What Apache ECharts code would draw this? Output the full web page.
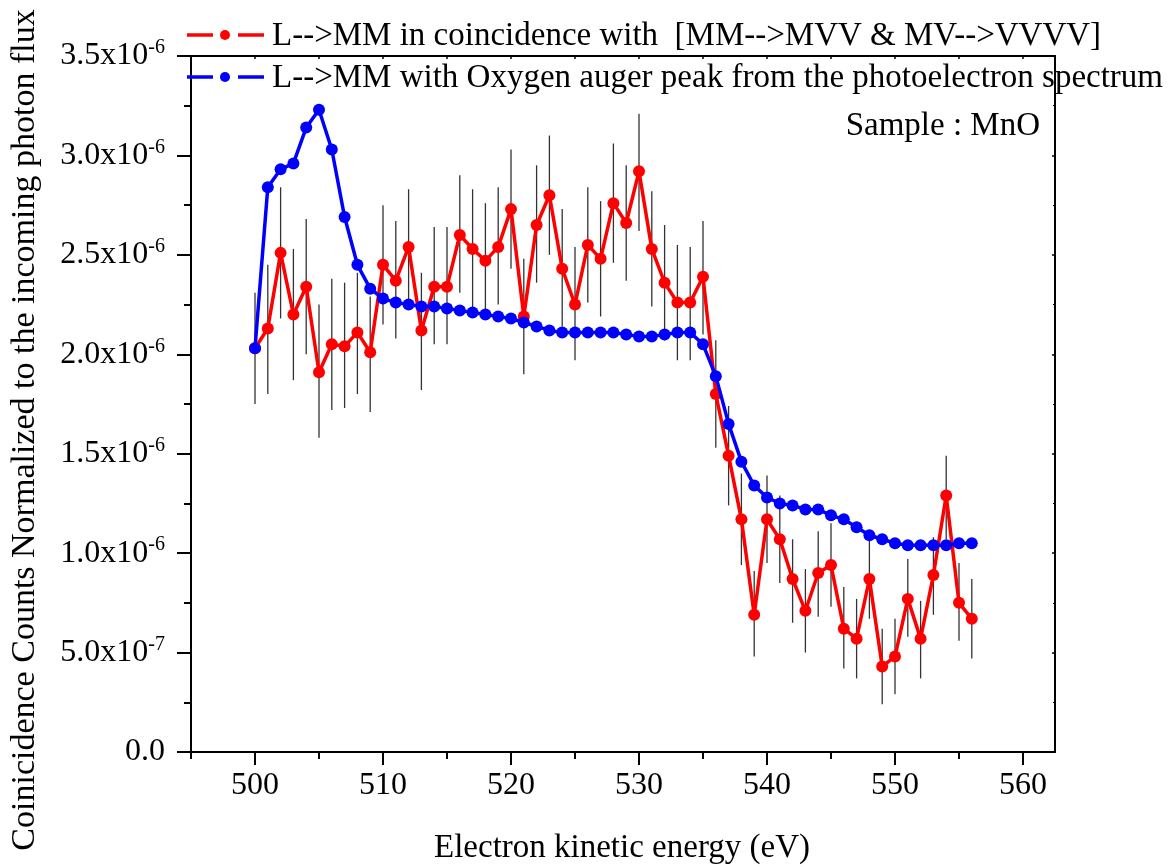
<!DOCTYPE html>
<html>
<head>
<meta charset="utf-8">
<script src="https://cdn.jsdelivr.net/npm/echarts@6/dist/echarts.min.js"></script>
<style>html,body{margin:0;padding:0;background:#fff;}#c{width:1176px;height:867px;}</style>
</head>
<body>
<div id="c"></div>
<script>
// Energies (eV)
var energies = [500,501,502,503,504,505,506,507,508,509,510,511,512,513,514,515,516,517,518,519,520,521,522,523,524,525,526,527,528,529,530,531,532,533,534,535,536,537,538,539,540,541,542,543,544,545,546,547,548,549,550,551,552,553,554,555,556];
// Values in units of 1e-6
var coincidence = [2.03,2.13,2.51,2.20,2.34,1.91,2.05,2.04,2.11,2.01,2.45,2.37,2.54,2.12,2.34,2.34,2.60,2.53,2.47,2.54,2.73,2.19,2.65,2.80,2.43,2.25,2.55,2.48,2.76,2.66,2.92,2.53,2.36,2.26,2.26,2.39,1.80,1.49,1.17,0.69,1.17,1.07,0.87,0.71,0.90,0.94,0.62,0.57,0.87,0.43,0.48,0.77,0.57,0.89,1.29,0.75,0.67];
var errHigh = [2.31,2.45,2.84,2.53,2.68,2.25,2.38,2.36,2.41,2.29,2.75,2.67,2.83,2.41,2.64,2.64,2.90,2.83,2.76,2.84,3.03,2.48,2.95,3.10,2.73,2.54,2.84,2.77,3.06,2.95,3.21,2.82,2.65,2.55,2.54,2.67,2.07,1.74,1.40,0.91,1.39,1.29,1.07,0.92,1.11,1.15,0.83,0.77,1.08,0.62,0.67,0.97,0.76,1.08,1.49,0.95,0.87];
var errLow = [1.75,1.80,2.18,1.87,2.00,1.58,1.72,1.73,1.80,1.71,2.15,2.08,2.24,1.82,2.05,2.05,2.31,2.23,2.18,2.25,2.43,1.90,2.36,2.50,2.14,1.97,2.26,2.19,2.46,2.37,2.62,2.24,2.07,1.97,1.97,2.10,1.53,1.24,0.94,0.48,0.95,0.85,0.65,0.50,0.68,0.73,0.42,0.37,0.67,0.24,0.29,0.58,0.37,0.69,1.07,0.56,0.47];
var oxygenAuger = [2.03,2.84,2.93,2.96,3.14,3.23,3.03,2.69,2.45,2.33,2.28,2.26,2.25,2.24,2.24,2.23,2.22,2.21,2.20,2.19,2.18,2.16,2.14,2.12,2.11,2.11,2.11,2.11,2.11,2.10,2.09,2.09,2.10,2.11,2.11,2.05,1.89,1.65,1.46,1.34,1.28,1.25,1.24,1.22,1.22,1.19,1.17,1.13,1.09,1.07,1.05,1.04,1.04,1.04,1.04,1.05,1.05];
var xMajorTicks = [500,510,520,530,540,550,560];
var xMinorTicks = [495,505,515,525,535,545,555];
var legendNames = ['L-->MM in coincidence with  [MM-->MVV & MV-->VVVV]', 'L-->MM with Oxygen auger peak from the photoelectron spectrum'];
var xTitle = 'Electron kinetic energy (eV)';
var yTitle = 'Coinicidence Counts Normalized to the incoming photon flux';
var sampleLabel = 'Sample : MnO';

var FONT = 'Liberation Serif';
var chart = echarts.init(document.getElementById('c'), null, {renderer: 'canvas'});

function pairs(ys) { return energies.map(function (x, i) { return [x, ys[i]]; }); }
var errData = energies.map(function (x, i) { return [x, errLow[i], errHigh[i]]; });

function yFmt(v) {
  if (Math.abs(v) < 1e-9) return '{m|0.0}';
  if (Math.abs(v - 0.5) < 1e-9) return '{m|5.0x10}{s|-7}';
  return '{m|' + v.toFixed(1) + 'x10}{s|-6}';
}

var grid = {left: 191, right: 121, top: 56, bottom: 115, containLabel: false};
var axisLineStyle = {color: '#000', width: 2};

var option = {
  animation: false,
  backgroundColor: '#fff',
  grid: grid,
  xAxis: [{
    type: 'value', min: 495, max: 562.5, position: 'bottom',
    axisLine: {show: true, onZero: false, lineStyle: axisLineStyle},
    axisTick: {show: true, length: 13, customValues: xMajorTicks, lineStyle: {color: '#000', width: 2}},
    axisLabel: {customValues: xMajorTicks, margin: 18, fontFamily: FONT, fontSize: 32, color: '#000'},
    splitLine: {show: false}
  }, {
    type: 'value', min: 495, max: 562.5, position: 'bottom',
    axisLine: {show: false},
    axisTick: {show: true, length: 7, customValues: xMinorTicks, lineStyle: {color: '#000', width: 2}},
    axisLabel: {show: false},
    splitLine: {show: false}
  }, {
    type: 'value', min: 495, max: 562.5, position: 'top',
    axisLine: {show: true, onZero: false, lineStyle: axisLineStyle},
    axisTick: {show: true, inside: true, length: 3, customValues: xMajorTicks.concat(xMinorTicks), lineStyle: {color: '#000', width: 1.5}},
    axisLabel: {show: false},
    splitLine: {show: false}
  }],
  yAxis: [{
    type: 'value', min: 0, max: 3.5, interval: 0.5, position: 'left',
    axisLine: {show: true, onZero: false, lineStyle: axisLineStyle},
    axisTick: {show: true, length: 14, lineStyle: {color: '#000', width: 2}},
    minorTick: {show: true, splitNumber: 2, length: 7, lineStyle: {color: '#000', width: 2}},
    axisLabel: {
      margin: 26, formatter: yFmt,
      rich: {
        m: {fontFamily: FONT, fontSize: 32, color: '#000'},
        s: {fontFamily: FONT, fontSize: 20, color: '#000', padding: [0, 0, 16, 0]}
      }
    },
    splitLine: {show: false}, minorSplitLine: {show: false}
  }, {
    type: 'value', min: 0, max: 3.5, interval: 0.5, position: 'right',
    axisLine: {show: true, onZero: false, lineStyle: axisLineStyle},
    axisTick: {show: true, inside: true, length: 3, lineStyle: {color: '#000', width: 1.5}},
    minorTick: {show: true, splitNumber: 2, length: 2},
    axisLabel: {show: false},
    splitLine: {show: false}
  }],
  series: [{
    type: 'custom', name: 'err', xAxisIndex: 0, yAxisIndex: 0, z: 1,
    data: errData,
    encode: {x: 0, y: [1, 2]},
    renderItem: function (params, api) {
      var p1 = api.coord([api.value(0), api.value(1)]);
      var p2 = api.coord([api.value(0), api.value(2)]);
      return {type: 'line', shape: {x1: p1[0], y1: p1[1], x2: p2[0], y2: p2[1]}, style: {stroke: '#333', lineWidth: 1.3}};
    }
  }, {
    type: 'line', name: legendNames[0], xAxisIndex: 0, yAxisIndex: 0, z: 3,
    data: pairs(coincidence),
    symbol: 'circle', symbolSize: 12, showSymbol: true,
    lineStyle: {color: '#ff0000', width: 3.5},
    itemStyle: {color: '#ff0000'}
  }, {
    type: 'line', name: legendNames[1], xAxisIndex: 0, yAxisIndex: 0, z: 4,
    data: pairs(oxygenAuger),
    symbol: 'circle', symbolSize: 12, showSymbol: true,
    lineStyle: {color: '#0000ff', width: 3.5},
    itemStyle: {color: '#0000ff'}
  }],
  graphic: [
    {type: 'line', shape: {x1: 187, y1: 35, x2: 213, y2: 35}, style: {stroke: '#ff0000', lineWidth: 3.5}, z: 10},
    {type: 'circle', shape: {cx: 225, cy: 35, r: 5}, style: {fill: '#ff0000'}, z: 10},
    {type: 'line', shape: {x1: 238, y1: 35, x2: 264, y2: 35}, style: {stroke: '#ff0000', lineWidth: 3.5}, z: 10},
    {type: 'text', x: 272, y: 36, style: {text: legendNames[0], font: '33px "Liberation Serif"', fill: '#000', textVerticalAlign: 'middle'}, z: 10},
    {type: 'line', shape: {x1: 187, y1: 77, x2: 213, y2: 77}, style: {stroke: '#0000ff', lineWidth: 3.5}, z: 10},
    {type: 'circle', shape: {cx: 225, cy: 77, r: 5}, style: {fill: '#0000ff'}, z: 10},
    {type: 'line', shape: {x1: 238, y1: 77, x2: 264, y2: 77}, style: {stroke: '#0000ff', lineWidth: 3.5}, z: 10},
    {type: 'text', x: 272, y: 78, style: {text: legendNames[1], font: '33px "Liberation Serif"', fill: '#000', textVerticalAlign: 'middle'}, z: 10},
    {type: 'text', x: 1040, y: 126, style: {text: sampleLabel, font: '33px "Liberation Serif"', fill: '#000', textAlign: 'right', textVerticalAlign: 'middle'}, z: 10},
    {type: 'text', x: 622, y: 848, style: {text: xTitle, font: '33px "Liberation Serif"', fill: '#000', textAlign: 'center', textVerticalAlign: 'middle'}, z: 10},
    {type: 'text', x: 25, y: 430, rotation: Math.PI / 2, style: {text: yTitle, font: '34px "Liberation Serif"', fill: '#000', textAlign: 'center', textVerticalAlign: 'middle'}, z: 10}
  ]
};
chart.setOption(option);
</script>
</body>
</html>
